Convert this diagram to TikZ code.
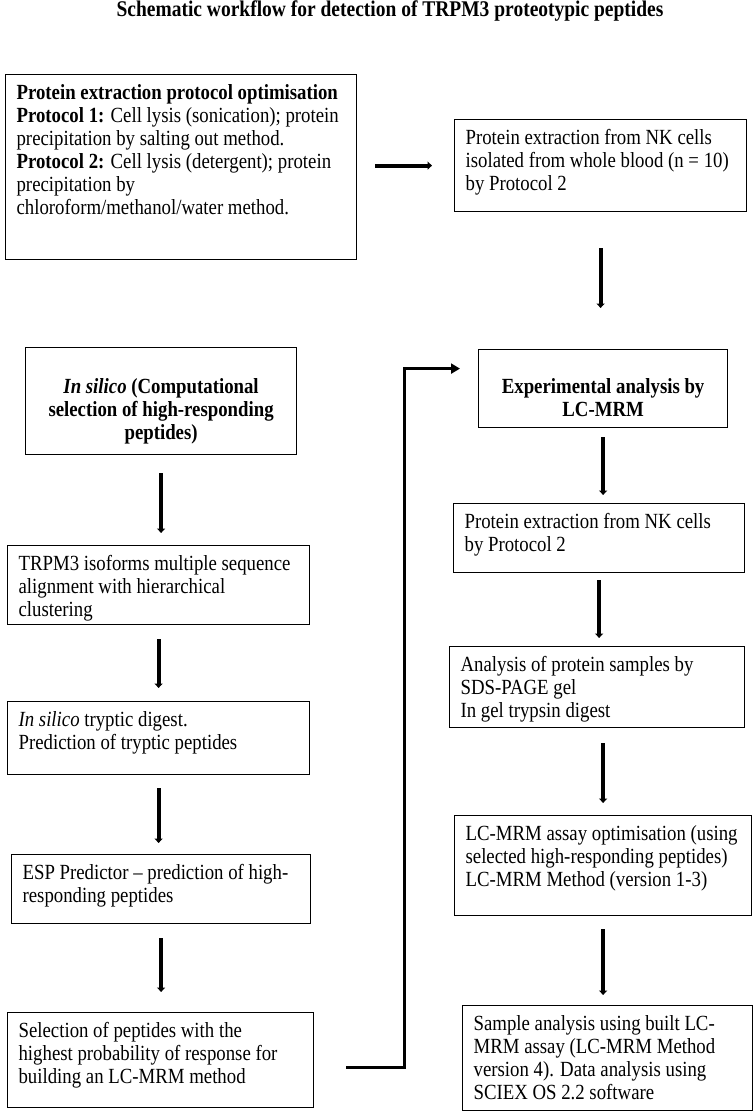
\documentclass[tikz,border=0pt]{standalone}
\usepackage{fontspec}
\setmainfont{Liberation Serif}[FakeStretch=0.87]
\usetikzlibrary{arrows.meta}
\tikzset{
    flow-box/.style = {draw, line width=1.2pt, rectangle, anchor=north west, inner xsep=11pt, inner ysep=9pt, font=\fontsize{21.6}{23}\selectfont},
    flow-head/.style = {flow-box, font=\fontsize{21.6}{23}\selectfont\bfseries},
    flow-title/.style = {anchor=base, font=\fontsize{22.4}{24}\selectfont\bfseries},
    flow-arrow/.style = {line width=3.8pt, -{Triangle[length=4.5pt,width=8pt]}},
    flow-link/.style = {line width=2.7pt, -{Triangle[length=9pt,width=10pt]}},
}

\begin{document}
\begin{tikzpicture}[x=1pt, y=1pt]
\useasboundingbox (0,0) rectangle (754,-1113);
\node[flow-title] (title) at (390,-17) {Schematic workflow for detection of TRPM3 proteotypic peptides};

% top row
\node[flow-box] (protopt) at (5,-74) {\begin{minipage}[c][167pt][t]{329pt}
    \begin{tabular}{@{}l@{}}
    \textbf{Protein extraction protocol optimisation}\\
    \textbf{Protocol 1:} Cell lysis (sonication); protein\\
    precipitation by salting out method.\\
    \textbf{Protocol 2:} Cell lysis (detergent); protein\\
    precipitation by\\
    chloroform/methanol/water method.
    \end{tabular}
\end{minipage}};
\node[flow-box] (nkblood) at (454,-119) {\begin{minipage}[c][74pt][t]{270pt}
    \begin{tabular}{@{}l@{}}
    Protein extraction from NK cells\\
    isolated from whole blood (n = 10)\\
    by Protocol 2
    \end{tabular}
\end{minipage}};

% left column
\node[flow-head] (insilico) at (25,-347) {\begin{minipage}[c][89pt][t]{249pt}
    \centering\vspace*{21pt}
    \begin{tabular}{@{}c@{}}
    \textit{In silico} (Computational\\
    selection of high-responding\\
    peptides)
    \end{tabular}
\end{minipage}};
\node[flow-box] (trpm3) at (7,-545) {\begin{minipage}[c][61pt][t]{280pt}
    \begin{tabular}{@{}l@{}}
    TRPM3 isoforms multiple sequence\\
    alignment with hierarchical\\
    clustering
    \end{tabular}
\end{minipage}};
\node[flow-box] (tryptic) at (7,-701) {\begin{minipage}[c][55pt][t]{280pt}
    \begin{tabular}{@{}l@{}}
    \textit{In silico} tryptic digest.\\
    Prediction of tryptic peptides
    \end{tabular}
\end{minipage}};
\node[flow-box] (esp) at (11,-854) {\begin{minipage}[c][51pt][t]{277pt}
    \begin{tabular}{@{}l@{}}
    ESP Predictor -- prediction of high-\\
    responding peptides
    \end{tabular}
\end{minipage}};
\node[flow-box] (selection) at (7,-1012) {\begin{minipage}[c][77pt][t]{284pt}
    \begin{tabular}{@{}l@{}}
    Selection of peptides with the\\
    highest probability of response for\\
    building an LC-MRM method
    \end{tabular}
\end{minipage}};

% right column
\node[flow-head] (expt) at (478,-349) {\begin{minipage}[c][60pt][t]{227pt}
    \centering\vspace*{19pt}
    \begin{tabular}{@{}c@{}}
    Experimental analysis by\\
    LC-MRM
    \end{tabular}
\end{minipage}};
\node[flow-box] (nkcells) at (453,-503) {\begin{minipage}[c][51pt][t]{269pt}
    \begin{tabular}{@{}l@{}}
    Protein extraction from NK cells\\
    by Protocol 2
    \end{tabular}
\end{minipage}};
\node[flow-box] (sdspage) at (449,-646) {\begin{minipage}[c][63pt][t]{273pt}
    \begin{tabular}{@{}l@{}}
    Analysis of protein samples by\\
    SDS-PAGE gel\\
    In gel trypsin digest
    \end{tabular}
\end{minipage}};
\node[flow-box] (lcassay) at (454,-815) {\begin{minipage}[c][82pt][t]{275pt}
    \begin{tabular}{@{}l@{}}
    LC-MRM assay optimisation (using\\
    selected high-responding peptides)\\
    LC-MRM Method (version 1-3)
    \end{tabular}
\end{minipage}};
\node[flow-box] (sample) at (462,-1005) {\begin{minipage}[c][87pt][t]{268pt}
    \begin{tabular}{@{}l@{}}
    Sample analysis using built LC-\\
    MRM assay (LC-MRM Method\\
    version 4). Data analysis using\\
    SCIEX OS 2.2 software
    \end{tabular}
\end{minipage}};

% arrows
\draw[flow-arrow, shorten <=18pt, shorten >=22pt] (protopt.east |- nkblood.west) -- (nkblood.west);
\draw[flow-arrow, shorten <=36pt, shorten >=41pt] (nkblood.south) -- (nkblood.south |- expt.north);
\draw[flow-arrow, shorten <=18pt, shorten >=12pt] (insilico.south) -- (insilico.south |- trpm3.north);
\draw[flow-arrow, shorten <=14pt, shorten >=13pt] (trpm3.south) -- (tryptic.north);
\draw[flow-arrow, shorten <=13pt, shorten >=11pt] (tryptic.south) -- (tryptic.south |- esp.north);
\draw[flow-arrow, shorten <=14pt, shorten >=20pt] (esp.south) -- (esp.south |- selection.north);
\draw[flow-arrow, shorten <=9pt, shorten >=8pt] (expt.south) -- (expt.south |- nkcells.north);
\draw[flow-arrow, shorten <=7pt, shorten >=8pt] (nkcells.south) -- (nkcells.south |- sdspage.north);
\draw[flow-arrow, shorten <=15pt, shorten >=12pt] (sdspage.south -| lcassay.north) -- (lcassay.north);
\draw[flow-arrow, shorten <=13pt, shorten >=10pt] (lcassay.south) -- (lcassay.south |- sample.north);

% link from left column to experimental analysis
\coordinate (selout) at ([yshift=-7.5pt]selection.east);
\draw[flow-link, shorten <=32pt, shorten >=18pt] (selout) -- ++(90,0) |- ([yshift=20pt]expt.west);
\end{tikzpicture}
\end{document}
